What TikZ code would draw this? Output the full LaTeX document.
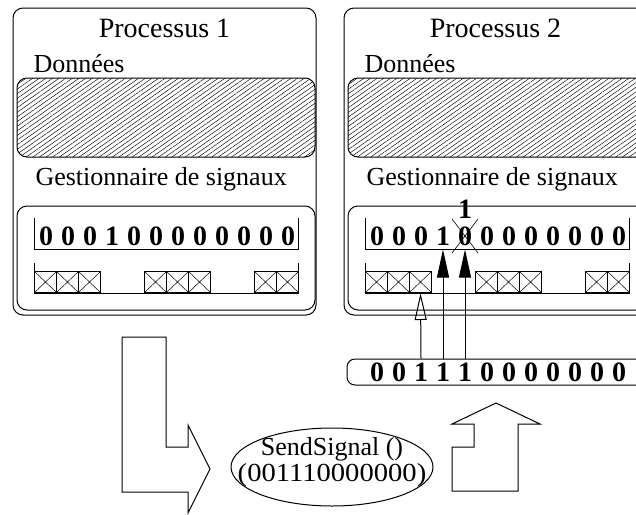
\documentclass[tikz,border=0pt]{standalone}
\usepackage{fontspec}
\usepackage{graphicx}
\setmainfont{Liberation Serif}
\usetikzlibrary{arrows.meta,patterns.meta,shapes.geometric}

\tikzset{
  lbl/.style={font=\fontsize{26}{26}\selectfont, inner sep=0pt, anchor=base west},
  bit/.style={font=\fontsize{28}{28}\selectfont\bfseries, inner sep=0pt,
    text height=22pt, text depth=4pt, anchor=base},
  slotbox/.style={draw, minimum width=22pt, minimum height=21pt, inner sep=0pt,
    anchor=south west,
    path picture={\draw[line width=0.5pt]
      (path picture bounding box.south west) -- (path picture bounding box.north east)
      (path picture bounding box.north west) -- (path picture bounding box.south east);}},
  hatch/.style={rounded corners=10pt,
    pattern={Lines[angle=35,distance=3.8pt,line width=0.45pt]}},
  fleche/.style={-{Triangle[length=28pt,width=12pt]}},
  flecheo/.style={-{Triangle[open,length=27pt,width=12pt]}}
}

\begin{document}
\begin{tikzpicture}[x=1pt,y=-1pt,line width=1pt]
  \useasboundingbox (0,0) rectangle (636,514);
  \clip (0,0) rectangle (636,514);

  % les deux processus
  \foreach \p/\ox in {1/0,2/331} {
    \draw[rounded corners=10pt] (\ox+13,8) rectangle (\ox+316,315);
    \node[font=\fontsize{28}{28}\selectfont, inner sep=0pt, anchor=base] (t\p)
      at (\ox+164.5,37) {Processus \p};
    \node[lbl] (d\p) at (\ox+33,72) {Données};
    \draw[hatch] (\ox+17,78) rectangle (\ox+315,157);
    \node[lbl] (g\p) at (\ox+35,185) {Gestionnaire de signaux};
    \draw[rounded corners=10pt] (\ox+17,206) rectangle (\ox+315,310);
    % masque
    \draw (\ox+34,218) -- (\ox+34,249) -- (\ox+298,249) -- (\ox+298,218);
    \foreach \b [count=\i from 0] in {0,0,0,1,0,0,0,0,0,0,0,0}
      \node[bit] (r\p-\i) at (\ox+46+22*\i,245) {\b};
    % file des signaux
    \draw (\ox+34,263) -- (\ox+34,293) -- (\ox+298,293) -- (\ox+298,263);
    \foreach \i in {0,1,2,5,6,7,10,11}
      \node[slotbox] (q\p-\i) at (\ox+34+22*\i,293) {};
  }

  % bit mis a 1
  \draw[line width=0.6pt] ([shift={(-13pt,26pt)}]r2-4.base) -- ([shift={(13pt,-8pt)}]r2-4.base)
    ([shift={(13pt,26pt)}]r2-4.base) -- ([shift={(-13pt,-8pt)}]r2-4.base);
  \node[font=\fontsize{28}{28}\selectfont\bfseries, inner sep=0pt, anchor=base] (un)
    at ([yshift=27pt]r2-4.base) {1};

  % signal envoye
  \draw[rounded corners=8pt] (347,359) rectangle (680,385);
  \foreach \b [count=\i from 0] in {0,0,1,1,1,0,0,0,0,0,0,0}
    \node[bit] (s-\i) at (377+22*\i,381) {\b};
  \draw[flecheo] (s-2.north) -- (q2-2.south);
  \draw[fleche] (s-3.north) -- (r2-3.south);
  \draw[fleche] (s-4.north) -- (r2-4.south);

  % grosses fleches
  \draw (122,337) -- (166,337) -- (166,447) -- (188,447) -- (188,425) -- (210,469)
    -- (188,513) -- (188,492) -- (122,492) -- cycle;
  \draw (496,403) -- (540,424) -- (518,424) -- (518,491) -- (452,491) -- (452,447)
    -- (474,447) -- (474,424) -- (452,424) -- cycle;

  \node[ellipse, draw, minimum width=202pt, minimum height=78pt, inner sep=0pt] (send)
    at (332,467) {};
  \node[font=\fontsize{26}{26}\selectfont, inner sep=0pt, anchor=base] (send1)
    at (332,455) {SendSignal ()};
  \node[font=\fontsize{26}{26}\selectfont, inner sep=0pt, anchor=base] (send2)
    at (332,481) {\scalebox{1.1}[1]{(001110000000)}};
\end{tikzpicture}
\end{document}
